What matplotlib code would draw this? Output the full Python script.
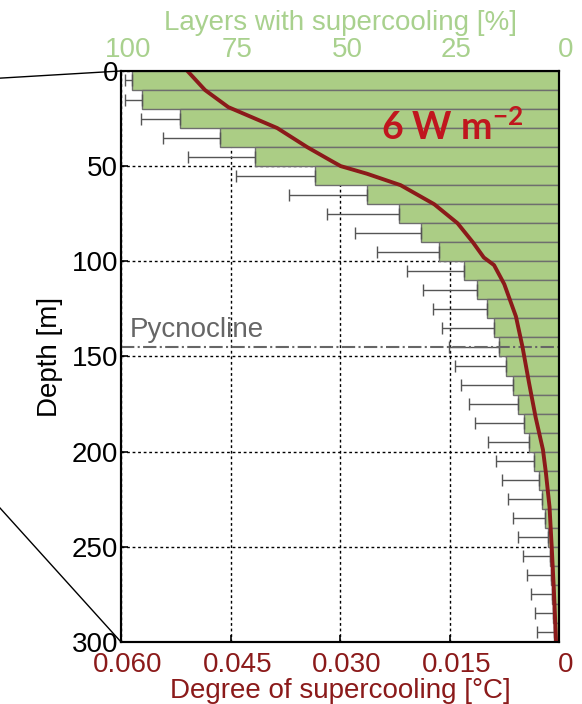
import matplotlib.pyplot as plt
import matplotlib.transforms as mtransforms
from matplotlib.lines import Line2D
import numpy as np

# depth bins (10 m layers) and share of layers with supercooling [%]
bin_centers = [5, 15, 25, 35, 45, 55, 65, 75, 85, 95, 105, 115, 125, 135, 145,
               155, 165, 175, 185, 195, 205, 215, 225, 235, 245, 255, 265, 275, 285, 295]
layers_pct = [97.4, 95.3, 86.5, 77.5, 69.3, 55.6, 43.9, 36.5, 31.4, 27.3,
              21.8, 18.8, 16.5, 14.8, 13.6, 12.1, 10.5, 9.3, 8.1, 6.8,
              5.6, 4.6, 3.8, 3.1, 2.6, 2.1, 1.9, 1.7, 1.4, 1.2]
layers_err = [1.7, 3.8, 9.0, 13.0, 15.4, 18.1, 17.7, 16.4, 15.1, 14.3,
              13.0, 12.3, 12.3, 11.8, 11.5, 11.6, 11.9, 11.2, 11.1, 9.3,
              8.8, 8.4, 7.9, 7.5, 6.8, 6.2, 5.5, 4.7, 4.1, 3.9]

# mean degree of supercooling profile
curve_depth = [0, 10, 19, 30, 40, 47, 50, 54, 60, 70, 80, 90, 98, 102, 112,
               129, 145, 164, 182, 199, 211, 229, 250, 273, 300]
curve_deg = [0.0509, 0.0485, 0.0453, 0.0386, 0.0345, 0.0313, 0.0299, 0.0263,
             0.0217, 0.0171, 0.0139, 0.0118, 0.0103, 0.0089, 0.0075, 0.0059,
             0.0050, 0.0041, 0.0032, 0.0022, 0.0018, 0.0013, 0.0010, 0.0007, 0.0004]

pct_ticks = [100, 75, 50, 25, 0]
deg_ticks = [0.060, 0.045, 0.030, 0.015, 0]
deg_labels = ['0.060', '0.045', '0.030', '0.015', '0']
depth_ticks = [0, 50, 100, 150, 200, 250, 300]
pycnocline = 145

green = '#A9D18E'
dark_red = '#8B1A1A'

plt.rcParams['font.family'] = ['Liberation Sans', 'DejaVu Sans']
plt.rcParams['mathtext.default'] = 'regular'

fig = plt.figure(figsize=(5.82, 7.04), dpi=100)
ax = fig.add_axes([0.2079, 0.0881, 0.7526, 0.8111])

# bars on the percent axis
ax.set_axisbelow(True)
ax.barh(bin_centers, layers_pct, height=10, color='#ABCD85',
        edgecolor='#6E6E6E', linewidth=1)
ax.errorbar(layers_pct, bin_centers, xerr=[np.zeros(len(layers_err)), layers_err],
            fmt='none', ecolor='#555555', elinewidth=1, capsize=4, capthick=1)
ax.set_xlim(100, 0)
ax.set_ylim(300, 0)
ax.set_xticks(pct_ticks)
ax.set_yticks(depth_ticks)
ax.grid(True, linestyle=(0, (2, 2)), color='k', linewidth=1)

ax.axhline(pycnocline, color='#666666', linestyle='-.', linewidth=1.5, zorder=5)
ax.text(98, 140, 'Pycnocline', color='#666666', fontsize=20, ha='left',
        va='baseline', zorder=6)
ax.text(24.5, 29.5, '6 W m$^{-2}$', color='#C0161E', fontsize=27,
        fontweight='bold', family='Lato', ha='center', va='center', zorder=6)

# curve on the supercooling axis
ax2 = ax.twiny()
ax2.plot(curve_deg, curve_depth, color=dark_red, linewidth=2.8)
ax2.set_xlim(0.060, 0)
ax2.set_ylim(300, 0)
ax2.set_xticks(deg_ticks)
ax2.set_xticklabels(deg_labels)

ax.xaxis.tick_top()
ax.xaxis.set_label_position('top')
ax2.xaxis.tick_bottom()
ax2.xaxis.set_label_position('bottom')

ax.tick_params(axis='x', direction='in', length=5, width=1.2, colors='k',
               labelcolor=green, labelsize=20, pad=6)
ax.tick_params(axis='y', direction='in', length=5, width=1.2, left=True,
               right=True, labelsize=20, pad=2)
ax2.tick_params(axis='x', direction='in', length=5, width=1.2, colors='k',
                labelcolor=dark_red, labelsize=20, pad=7)

shift = mtransforms.ScaledTranslation(0.07, 0, fig.dpi_scale_trans)
for lab in ax.get_xticklabels() + ax2.get_xticklabels():
    lab.set_transform(lab.get_transform() + shift)

ax.set_xlabel('Layers with supercooling [%]', color=green, fontsize=20, labelpad=5)
ax2.set_xlabel('Degree of supercooling [°C]', color=dark_red, fontsize=20, labelpad=0)
ax.set_ylabel('Depth [m]', fontsize=20, labelpad=6)

for a in (ax, ax2):
    for sp in a.spines.values():
        sp.set_linewidth(1.5)

# zoom lines from the neighbouring panel
fig.add_artist(Line2D([0, 0.2079], [0.889, 0.8992], color='k', linewidth=1))
fig.add_artist(Line2D([0, 0.2079], [0.2784, 0.0881], color='k', linewidth=1))

fig.savefig('out.png', dpi=100)
